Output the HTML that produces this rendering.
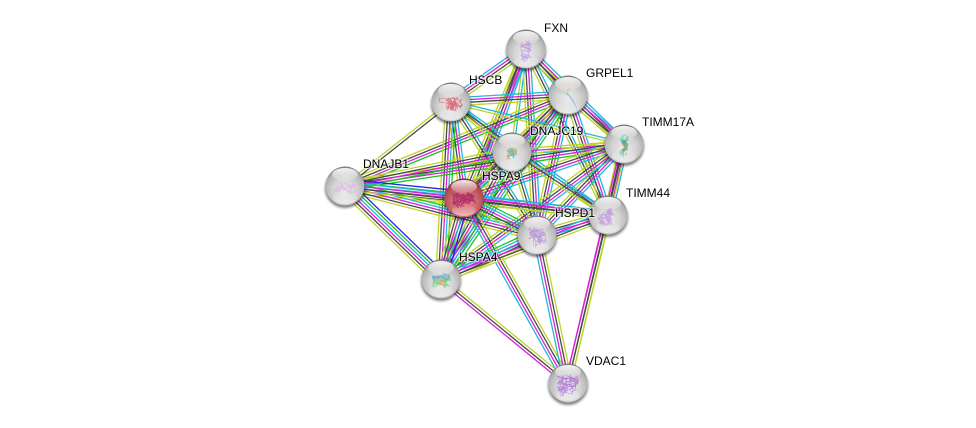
<!DOCTYPE html>
<html><head><meta charset="utf-8"><style>
html,body{margin:0;padding:0;background:#fff;width:976px;height:428px;overflow:hidden}
svg{display:block}
text{font-family:"Liberation Sans",sans-serif;font-size:12px;fill:#000;stroke:#fff;stroke-opacity:.55;stroke-width:2.5px;paint-order:stroke;stroke-linejoin:round}
</style></head><body>
<svg id="s" xmlns="http://www.w3.org/2000/svg" width="976" height="428" viewBox="0 0 976 428">
<defs>
<radialGradient id="g" cx=".5" cy=".62" r=".62"><stop offset="0" stop-color="#ececec"/><stop offset=".5" stop-color="#d4d4d4"/><stop offset=".82" stop-color="#b4b4b4"/><stop offset=".95" stop-color="#8a8a8a"/><stop offset="1" stop-color="#6a6a6a"/></radialGradient>
<radialGradient id="r" cx=".5" cy=".64" r=".64"><stop offset="0" stop-color="#ea8088"/><stop offset=".5" stop-color="#cf6a72"/><stop offset=".82" stop-color="#b04c50"/><stop offset=".95" stop-color="#843434"/><stop offset="1" stop-color="#642424"/></radialGradient>
<linearGradient id="w" x1="0" y1="0" x2="0" y2="1"><stop offset="0" stop-color="#fff" stop-opacity=".9"/><stop offset="1" stop-color="#fff" stop-opacity=".1"/></linearGradient>
<linearGradient id="b" x1="0" y1="0" x2="0" y2="1"><stop offset="0" stop-color="#fff" stop-opacity="0"/><stop offset="1" stop-color="#fff" stop-opacity=".55"/></linearGradient>
<filter id="f" x="-30%" y="-30%" width="160%" height="160%"><feGaussianBlur stdDeviation="1.2"/></filter>
</defs>
<g id="edges" fill="none" stroke-width="1.3"></g>
<g id="nodes"></g>
<text x="544" y="32">FXN</text>
<text x="586" y="77">GRPEL1</text>
<text x="469" y="84">HSCB</text>
<text x="642" y="126">TIMM17A</text>
<text x="530" y="135">DNAJC19</text>
<text x="363" y="168">DNAJB1</text>
<text x="482" y="180">HSPA9</text>
<text x="626" y="197">TIMM44</text>
<text x="555" y="217">HSPD1</text>
<text x="459" y="261">HSPA4</text>
<text x="586" y="365">VDAC1</text>
</svg>
<script>
var N={F:[526,49],G:[568,95],H:[451,102],T:[624,144],D:[512,152],J:[345,186],A:[464,198],M:[608,215],P:[537,235],B:[441,279],V:[568,383]};
var C={g:'#22c322',b:'#2020f0',c:'#22b8dc',m:'#d822d8',k:'#484848',y:'#bcd42a'};
var rank='VHGFTDJABMP';
var E='FG cky,FH cmky,FD cy,FA cmky,FT cmky,FM cky,FP cmky,FB cmky,GH cmky,GT cmky,GD gcmky,GJ gmky,GA gcmky,GM cmky,GP cmky,GB gcmky,HJ ky,HD cky,HA cmky,HT cy,HM cky,HP cky,HB gcmky,TD cmy,TJ gmky,TA cmky,TM cmky,TP cmky,TB cmky,TV mky,DJ gmky,DA cmky,DM cky,DP cky,DB gcmky,JA bgcmky,JP gcmky,JB bgcmky,JM cmky,AM cmky,AP gcmky,AB bcmky,AV cmky,PM cmky,PB gcmky,PV cmky,BV mky,BM cmky,MV mky'.split(',');
var h='';
E.forEach(function(e){var p=e.split(' '),u=p[0][0],v=p[0][1],c=p[1];
if(rank.indexOf(u)>rank.indexOf(v)){var t=u;u=v;v=t;}
var a=N[u],b=N[v];
var dx=b[0]-a[0],dy=b[1]-a[1],l=Math.hypot(dx,dy),nx=-dy/l,ny=dx/l,s=2.7;
for(var i=0;i<c.length;i++){var o=(i-(c.length-1)/2)*s;
h+='<line x1="'+(a[0]+nx*o).toFixed(1)+'" y1="'+(a[1]+ny*o).toFixed(1)+'" x2="'+(b[0]+nx*o).toFixed(1)+'" y2="'+(b[1]+ny*o).toFixed(1)+'" stroke="'+C[c[i]]+'"/>';}});
document.getElementById('edges').innerHTML=h;
/* colour, half-width, half-height, steps */
var S={F:[['#b88ad8',6,12,90]],H:[['#d85060',12,7,110]],T:[['#30c870',5,11,50],['#2090d8',4,8,24],['#d09040',3,5,18]],D:[['#e09050',6,6,36],['#50b860',6,6,24],['#50c0d8',5,4,20]],J:[['#d8b0e8',12,6,70]],A:[['#a02060',12,8,170]],M:[['#b890d8',11,9,110]],P:[['#b088d0',9,11,130]],B:[['#50c870',10,7,70],['#60a0e0',9,8,36],['#e8b060',6,5,20]],V:[['#a868d0',11,11,150]]};
var seed=11;function R(){seed=(seed*16807)%2147483647;return seed/2147483647;}
var n='';
Object.keys(N).forEach(function(k){var x=N[k][0],y=N[k][1],red=k=='A';
n+='<ellipse cx="'+x+'" cy="'+(y+2.5)+'" rx="20" ry="19.5" fill="#000" opacity=".5" filter="url(#f)"/>';
n+='<circle cx="'+x+'" cy="'+y+'" r="19.5" fill="url(#'+(red?'r':'g')+')"/>';
if(k=='G'){
n+='<path d="M'+(x-11)+' '+(y-3)+'Q'+(x-4)+' '+(y-4)+' '+x+' '+(y)+'" fill="none" stroke="#a8dca8" stroke-width="1"/>';
n+='<path d="M'+(x-1)+' '+(y-2)+'Q'+(x+6)+' '+(y+6)+' '+(x+10)+' '+(y+16)+'" fill="none" stroke="#90b4e8" stroke-width="1"/>';
n+='<path d="M'+(x)+' '+(y-9)+'l2 4l-3 2z" fill="#ecc090"/>';
}else{S[k].forEach(function(q){var px=x,py=y+2,d='M'+px+' '+py;
for(var i=0;i<q[3];i++){px+=(R()-.5)*8;py+=(R()-.5)*8;
if(Math.abs(px-x)>q[1])px=x+(R()-.5)*2*q[1];
if(Math.abs(py-y-2)>q[2])py=y+2+(R()-.5)*2*q[2];
d+=' L'+px.toFixed(1)+' '+py.toFixed(1);}
n+='<path d="'+d+'" fill="none" stroke="'+q[0]+'" stroke-width=".55" opacity=".8"/>';});}
n+='<ellipse cx="'+x+'" cy="'+(y-11.5)+'" rx="13" ry="6.5" fill="url(#w)"/>';
n+='<ellipse cx="'+x+'" cy="'+(y+12)+'" rx="12" ry="6" fill="url(#b)"/>';
});
document.getElementById('nodes').innerHTML=n;
</script>
</body></html>
